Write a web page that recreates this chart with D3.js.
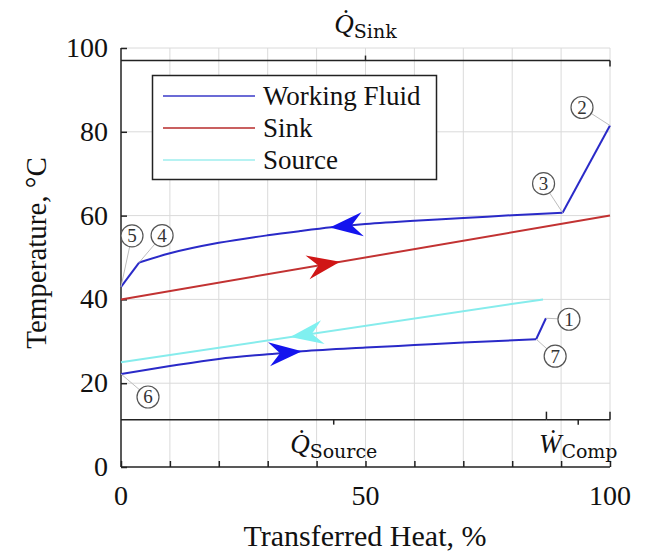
<!DOCTYPE html>
<html>
<head>
<meta charset="utf-8">
<script src="https://cdn.jsdelivr.net/npm/d3@7"></script>
<style>
  body { margin: 0; background: #fff; }
  text { font-family: "Liberation Serif", "Times New Roman", serif; fill: #111; }
</style>
</head>
<body>
<svg id="chart" width="654" height="551"></svg>
<script>
// Temperature profiles (°C) against share of transferred heat (%)
const sinkX = [0, 100];
const sinkT = [40, 60];
const sourceX = [0, 86.3];
const sourceT = [25, 40];
// working fluid: condensation (hot side) and evaporation (cold side)
const condX = [3.7, 10, 20, 30, 36.6, 43, 50, 60, 70, 80, 90.3];
const condT = [48.8, 51.0, 53.5, 55.3, 56.3, 57.2, 58.0, 58.8, 59.4, 60.1, 60.7];
const evapX = [0, 10, 20, 30, 37, 50, 60, 70, 84.9];
const evapT = [22.2, 24.1, 25.8, 26.9, 27.6, 28.5, 29.1, 29.7, 30.5];
// numbered cycle state points
const stateIds = [1, 2, 3, 4, 5, 6, 7];
const stateX = [86.9, 100, 90.3, 3.7, 0, 0, 84.9];
const stateT = [35.5, 81.5, 60.7, 48.8, 43.0, 22.2, 30.5];
// heat-duty bars: sink on top, source + compressor work at the bottom
const dutyNames = ["Sink", "Source", "Comp"];
const dutySymbols = ["Q\u0307", "Q\u0307", "W\u0307"];
const dutyStart = [0, 0, 87];
const dutyEnd = [100, 87, 100];
const dutyLevel = [97, 11.3, 11.3];
// axes
const xTicks = [0, 10, 20, 30, 40, 50, 60, 70, 80, 90, 100];
const xTickLabels = [0, 50, 100];
const yTicks = [0, 20, 40, 60, 80, 100];
const legendLabels = ["Working Fluid", "Sink", "Source"];
// flow-direction arrows: position of tip (%) and direction (+1 right, -1 left)
const arrowSeries = ["cond", "sink", "source", "evap"];
const arrowTipX = [42.7, 44.8, 34.6, 37];
const arrowDir = [-1, 1, -1, 1];

const col = {
  wf: "#2a2ac8", sink: "#c23232", source: "#86ecec",
  wfArrow: "#1414ee", sinkArrow: "#d01616", sourceArrow: "#7ff0f0",
  wfLegend: "#6b6bd6", sinkLegend: "#c96060", sourceLegend: "#b6f2f2",
  grid: "#dadada"
};

const svg = d3.select("#chart");
const x = d3.scaleLinear().domain([0, 100]).range([121, 610]);
const y = d3.scaleLinear().domain([0, 100]).range([467, 48]);

// grid
const g = svg.append("g");
g.selectAll(".vg").data(xTicks.filter(d => d > 0)).join("line")
  .attr("x1", d => x(d)).attr("x2", d => x(d))
  .attr("y1", y(0)).attr("y2", y(100))
  .attr("stroke", col.grid).attr("stroke-width", 1);
g.selectAll(".hg").data(yTicks.filter(d => d > 0)).join("line")
  .attr("x1", x(0)).attr("x2", x(100))
  .attr("y1", d => y(d)).attr("y2", d => y(d))
  .attr("stroke", col.grid).attr("stroke-width", 1);

// axes (ticks point inwards)
const xAxis = d3.axisTop(x).tickValues(xTicks).tickSize(6).tickFormat("");
svg.append("g").attr("transform", `translate(0,${y(0)})`).call(xAxis)
  .call(s => s.select(".domain").attr("d", `M${x(0)},0H${x(100)}`))
  .selectAll("line,path").attr("stroke", "#222").attr("stroke-width", 1.5);
const yAxis = d3.axisRight(y).tickValues(yTicks).tickSize(6).tickFormat("");
svg.append("g").attr("transform", `translate(${x(0)},0)`).call(yAxis)
  .call(s => s.select(".domain").attr("d", `M0,${y(0)}V${y(100)}`))
  .selectAll("line,path").attr("stroke", "#222").attr("stroke-width", 1.5);

svg.selectAll(".xl").data(xTickLabels).join("text")
  .attr("x", d => x(d)).attr("y", 505).attr("text-anchor", "middle")
  .attr("font-size", 28).text(d => d);
svg.selectAll(".yl").data(yTicks).join("text")
  .attr("x", 108).attr("y", d => y(d) + 9).attr("text-anchor", "end")
  .attr("font-size", 28).text(d => d);

svg.append("text").attr("x", 365).attr("y", 546).attr("text-anchor", "middle")
  .attr("font-size", 30).text("Transferred Heat, %");
svg.append("text").attr("transform", "translate(46,253) rotate(-90)")
  .attr("text-anchor", "middle").attr("font-size", 29).text("Temperature, \u00B0C");

// heat-duty bars
const duty = dutyNames.map((n, i) => ({ n, s: dutySymbols[i], a: dutyStart[i], b: dutyEnd[i], t: dutyLevel[i], top: i === 0 }));
const dg = svg.append("g").attr("stroke", "#222").attr("stroke-width", 1.5);
duty.forEach(d => {
  const yy = y(d.t);
  dg.append("line").attr("x1", x(d.a)).attr("x2", x(d.b)).attr("y1", yy).attr("y2", yy);
  const mid = (d.a + d.b) / 2;
  if (d.top) {
    dg.append("line").attr("x1", x(mid)).attr("x2", x(mid)).attr("y1", yy).attr("y2", yy - 5);
    dg.append("line").attr("x1", x(d.b)).attr("x2", x(d.b)).attr("y1", yy).attr("y2", yy + 6);
  } else {
    dg.append("line").attr("x1", x(mid)).attr("x2", x(mid)).attr("y1", yy).attr("y2", yy + 5);
    dg.append("line").attr("x1", x(d.b)).attr("x2", x(d.b)).attr("y1", yy).attr("y2", yy - 8);
  }
  const lab = svg.append("text").attr("x", x(mid)).attr("y", d.top ? yy - 28 : yy + 33)
    .attr("text-anchor", "middle");
  lab.append("tspan").attr("font-style", "italic").attr("font-size", 27).text(d.s);
  lab.append("tspan").attr("font-family", "DejaVu Serif").attr("font-size", 19)
    .attr("dy", 5).text(d.n);
});

// temperature profiles
const pts = (xs, ts) => xs.map((v, i) => [v, ts[i]]);
const lineLin = d3.line().x(d => x(d[0])).y(d => y(d[1]));
const lineSmooth = d3.line().x(d => x(d[0])).y(d => y(d[1])).curve(d3.curveMonotoneX);
const S = i => [stateX[i - 1], stateT[i - 1]];

const curves = svg.append("g").attr("fill", "none").attr("stroke-width", 2).attr("stroke-linejoin", "round");
curves.append("path").attr("d", lineLin(pts(sinkX, sinkT))).attr("stroke", col.sink);
curves.append("path").attr("d", lineLin(pts(sourceX, sourceT))).attr("stroke", col.source);
curves.append("path").attr("d", lineLin([S(5), S(4)])).attr("stroke", col.wf);
curves.append("path").attr("d", lineSmooth(pts(condX, condT))).attr("stroke", col.wf);
curves.append("path").attr("d", lineLin([S(3), S(2)])).attr("stroke", col.wf);
curves.append("path").attr("d", lineSmooth(pts(evapX, evapT))).attr("stroke", col.wf);
curves.append("path").attr("d", lineLin([S(7), S(1)])).attr("stroke", col.wf);

// flow arrows
const seriesPts = {
  cond: pts(condX, condT), sink: pts(sinkX, sinkT),
  source: pts(sourceX, sourceT), evap: pts(evapX, evapT)
};
const arrowCol = { cond: col.wfArrow, evap: col.wfArrow, sink: col.sinkArrow, source: col.sourceArrow };
function interp(p, xv) {
  for (let i = 0; i < p.length - 1; i++) {
    if (xv >= p[i][0] && xv <= p[i + 1][0]) {
      const f = (xv - p[i][0]) / (p[i + 1][0] - p[i][0]);
      return p[i][1] + f * (p[i + 1][1] - p[i][1]);
    }
  }
  return p[p.length - 1][1];
}
arrowSeries.forEach((s, i) => {
  const p = seriesPts[s];
  const tx = arrowTipX[i], dir = arrowDir[i];
  const bx = tx - dir * 6;
  const px = x(tx), py = y(interp(p, tx));
  const qx = x(bx), qy = y(interp(p, bx));
  const ang = Math.atan2(py - qy, px - qx) * 180 / Math.PI;
  svg.append("path")
    .attr("d", "M0,0 L-33,-12 L-22,0 L-33,12 Z")
    .attr("transform", `translate(${px},${py}) rotate(${ang})`)
    .attr("fill", arrowCol[s]);
});

// state-point markers
const labelDx = [23, -28, -19, 23, 11, 27, 19];
const labelDy = [1, -18, -29, -27, -51, 23, 17];
const sg = svg.append("g");
stateIds.forEach((id, i) => {
  const px = x(stateX[i]), py = y(stateT[i]);
  const cx = px + labelDx[i], cy = py + labelDy[i];
  const dx = px - cx, dy = py - cy, len = Math.hypot(dx, dy);
  sg.append("line").attr("x1", cx + dx / len * 11).attr("y1", cy + dy / len * 11)
    .attr("x2", px).attr("y2", py).attr("stroke", "#bdbdbd").attr("stroke-width", 1);
  sg.append("circle").attr("cx", cx).attr("cy", cy).attr("r", 11)
    .attr("fill", "#fff").attr("stroke", "#555").attr("stroke-width", 1.2);
  sg.append("text").attr("x", cx).attr("y", cy + 6.5).attr("text-anchor", "middle")
    .attr("font-size", 19).style("fill", "#333").text(id);
});

// legend
const lg = svg.append("g");
lg.append("rect").attr("x", 152.5).attr("y", 75.5).attr("width", 284).attr("height", 104)
  .attr("fill", "#fff").attr("stroke", "#222").attr("stroke-width", 1.5);
const legendCols = [col.wfLegend, col.sinkLegend, col.sourceLegend];
legendLabels.forEach((l, i) => {
  const yy = 96 + i * 32;
  lg.append("line").attr("x1", 163).attr("x2", 255).attr("y1", yy).attr("y2", yy)
    .attr("stroke", legendCols[i]).attr("stroke-width", 2);
  lg.append("text").attr("x", 263).attr("y", yy + 9).attr("font-size", 27).text(l);
});
</script>
</body>
</html>
